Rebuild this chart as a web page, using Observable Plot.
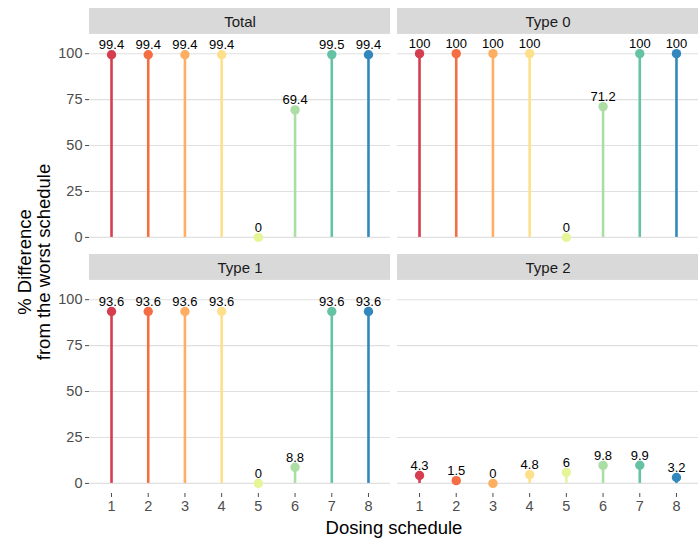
<!DOCTYPE html>
<html><head><meta charset="utf-8">
<script src="https://cdn.jsdelivr.net/npm/d3@7"></script>
<script src="https://cdn.jsdelivr.net/npm/@observablehq/plot@0.6"></script>
<style>body{margin:0;background:#fff;}</style>
</head><body><div id="chart"></div>
<script>
const schedules = [1, 2, 3, 4, 5, 6, 7, 8];
const panels = ["Total", "Type 0", "Type 1", "Type 2"];
const totalValues = [99.4, 99.4, 99.4, 99.4, 0, 69.4, 99.5, 99.4];
const type0Values = [100, 100, 100, 100, 0, 71.2, 100, 100];
const type1Values = [93.6, 93.6, 93.6, 93.6, 0, 8.8, 93.6, 93.6];
const type2Values = [4.3, 1.5, 0, 4.8, 6, 9.8, 9.9, 3.2];
const colors = ["#D53E4F", "#F46D43", "#FDAE61", "#FEE08B", "#E6F598", "#ABDDA4", "#66C2A5", "#3288BD"];
const yTicks = [0, 25, 50, 75, 100];
const xTitle = "Dosing schedule";
const yTitle = ["% Difference", "from the worst schedule"];

const seriesByPanel = [totalValues, type0Values, type1Values, type2Values];
const data = panels.flatMap((p, i) => schedules.map((s, j) => ({
  panel: p, col: i % 2, row: Math.floor(i / 2), schedule: s, value: seriesByPanel[i][j]
})));
const strips = panels.map((p, i) => ({panel: p, col: i % 2, row: Math.floor(i / 2)}));

const font = "'Liberation Sans', Arial, sans-serif";
const plot = Plot.plot({
  width: 698, height: 539,
  marginLeft: 89, marginRight: 0, marginTop: 7, marginBottom: 45,
  style: {fontFamily: font, background: "white", overflow: "visible"},
  fx: {domain: [0, 1], padding: 0.023, axis: null},
  fy: {domain: [0, 1], padding: 0.0283, axis: null},
  x: {domain: [0.4, 8.6]},
  y: {domain: [-5.5, 124.6]},
  color: {type: "ordinal", domain: schedules, range: colors},
  marks: [
    Plot.ruleY(yTicks, {y: d => d, stroke: "#E0E0E0", strokeWidth: 1.1}),
    Plot.rect(strips, {fx: "col", fy: "row", y1: () => 110.5, y2: () => 124.6, fill: "#D9D9D9"}),
    Plot.text(strips, {fx: "col", fy: "row", text: "panel", frameAnchor: "top", lineAnchor: "middle", dy: 13.5, fontSize: 15, fill: "#1A1A1A"}),
    Plot.ruleX(data, {fx: "col", fy: "row", x: "schedule", y1: () => 0, y2: "value", stroke: "schedule", strokeWidth: 2.6}),
    Plot.dot(data, {fx: "col", fy: "row", x: "schedule", y: "value", fill: "schedule", r: 4.7}),
    Plot.text(data, {fx: "col", fy: "row", x: "schedule", y: "value", text: d => String(d.value), lineAnchor: "bottom", dy: -5.5, fontSize: 13, fill: "#000"}),
    Plot.axisY({ticks: yTicks, tickSize: 4, tickPadding: 3, fontSize: 14.5, color: "#4D4D4D", label: null}),
    Plot.axisX({ticks: schedules, tickSize: 4, tickPadding: 3, fontSize: 14.5, color: "#4D4D4D", label: null})
  ]
});
document.getElementById("chart").appendChild(plot);

const svg = d3.select(plot);
svg.append("text")
  .attr("x", 394).attr("y", 534)
  .attr("text-anchor", "middle")
  .attr("font-family", font).attr("font-size", 18.5).attr("fill", "#000")
  .text(xTitle);
yTitle.forEach((t, i) => {
  svg.append("text")
    .attr("transform", `translate(${31 + i * 19},262) rotate(-90)`)
    .attr("text-anchor", "middle")
    .attr("font-family", font).attr("font-size", 18.5).attr("fill", "#000")
    .text(t);
});
</script>
</body></html>
